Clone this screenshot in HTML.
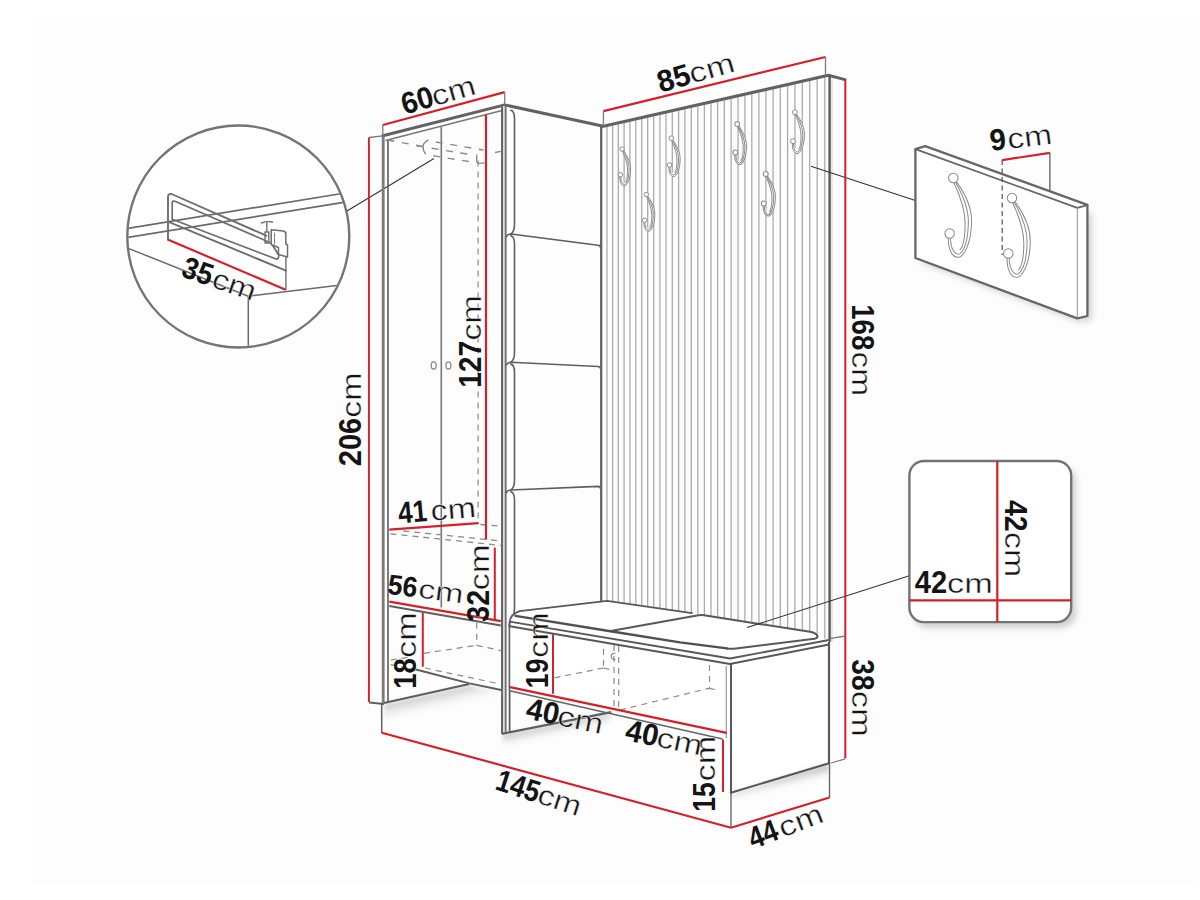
<!DOCTYPE html>
<html><head><meta charset="utf-8"><title>Hallway furniture dimensions</title>
<style>html,body{margin:0;padding:0;background:#fff;}svg{display:block;}</style></head>
<body><svg width="1200" height="900" viewBox="0 0 1200 900">
<rect x="0" y="0" width="1200" height="900" fill="#ffffff"/>
<rect x="32" y="15" width="1166" height="870" fill="#fdfdfd"/>
<defs><filter id="blur2" x="-20%" y="-20%" width="140%" height="140%"><feGaussianBlur stdDeviation="3"/></filter><filter id="blur1" x="-20%" y="-50%" width="140%" height="200%"><feGaussianBlur stdDeviation="2"/></filter><filter id="blur3" x="-20%" y="-80%" width="140%" height="260%"><feGaussianBlur stdDeviation="3.5"/></filter><linearGradient id="shd" x1="0" y1="0" x2="0" y2="1"><stop offset="0" stop-color="#a8a8a8"/><stop offset="1" stop-color="#ffffff" stop-opacity="0"/></linearGradient></defs>
<defs><clipPath id="cc"><circle cx="238.3" cy="236.5" r="110"/></clipPath></defs>
<circle cx="238.3" cy="236.5" r="111" fill="#fff"/>
<g clip-path="url(#cc)">
<line x1="120" y1="229.6" x2="345" y2="193" stroke="#6a6a6a" stroke-width="1.7" />
<line x1="120" y1="238.6" x2="345" y2="202.1" stroke="#6a6a6a" stroke-width="1.7" />
<line x1="120" y1="245" x2="248.3" y2="296.3" stroke="#6a6a6a" stroke-width="1.5" />
<line x1="248.3" y1="296.3" x2="345" y2="284.5" stroke="#6a6a6a" stroke-width="1.5" />
<line x1="248.3" y1="296.3" x2="248.3" y2="352" stroke="#6a6a6a" stroke-width="1.5" />
<path d="M168,240 L168,197 Q168,193.5 171.5,194 L266.4,235.7" stroke="#6e6e6e" stroke-width="1.9" fill="none" stroke-linejoin="round" stroke-linecap="round" />
<path d="M172.2,203 Q172.2,200.5 175,201.2 L263,239.5 L271.5,243.5 L278.6,255 Q279,259.5 276,259 L172.2,219.2 Z" stroke="#6e6e6e" stroke-width="1.7" fill="none" stroke-linejoin="round" stroke-linecap="round" />
<path d="M168,221.7 L285.9,270.6" stroke="#6e6e6e" stroke-width="1.9" fill="none" stroke-linejoin="round" stroke-linecap="round" />
<path d="M285.9,256 L285.9,289.5" stroke="#6e6e6e" stroke-width="1.4" fill="none" stroke-linejoin="round" stroke-linecap="round" />
<path d="M271.2,229.8 L271.2,244.5 L278.5,247.5 L278.5,254.5 L287.5,257 L287.5,245 L285.8,244 L285.8,232.5 L283.5,231 Z" stroke="#6e6e6e" stroke-width="1.5" fill="#fff" stroke-linejoin="round" stroke-linecap="round" />
<path d="M274.5,233 L274.5,244" stroke="#7c7c7c" stroke-width="1.0" fill="none" stroke-linejoin="round" stroke-linecap="round" />
<path d="M261.5,223 Q266.5,221 272.5,222 M266.8,222.3 L266.8,232 M265,232 L268.8,232 L268.8,243 L265,243 Z" stroke="#6e6e6e" stroke-width="1.4" fill="none" stroke-linejoin="round" stroke-linecap="round" />
</g>
<circle cx="238.3" cy="236.5" r="111" fill="none" stroke="#747474" stroke-width="2.4"/>
<line x1="347" y1="211" x2="434" y2="158.5" stroke="#333" stroke-width="1.1" />
<line x1="369.1" y1="137.5" x2="382.8" y2="135.8" stroke="#7c7c7c" stroke-width="1.3" />
<path d="M382.8,135.8 L504.7,104.9 L602.3,126" stroke="#626262" stroke-width="3.0" fill="none" stroke-linejoin="round" stroke-linecap="round" />
<line x1="385.5" y1="140.5" x2="502" y2="110.5" stroke="#777" stroke-width="1.4" />
<line x1="383.2" y1="135.8" x2="383.2" y2="703" stroke="#7a7a7a" stroke-width="2.8" />
<line x1="388" y1="140" x2="388" y2="702" stroke="#5c5c5c" stroke-width="1.6" />
<line x1="441.3" y1="127" x2="441.3" y2="607.5" stroke="#777" stroke-width="1.6" />
<ellipse cx="433.7" cy="365.4" rx="2.5" ry="3.6" fill="#fff" stroke="#888" stroke-width="1.3"/>
<ellipse cx="448.4" cy="365.4" rx="2.5" ry="3.6" fill="#fff" stroke="#888" stroke-width="1.3"/>
<rect x="502.6" y="106" width="2.4" height="627" fill="#dcdcdc"/>
<line x1="502" y1="105" x2="502" y2="734" stroke="#666" stroke-width="2.0" />
<line x1="505.7" y1="106" x2="505.7" y2="733" stroke="#707070" stroke-width="1.8" />
<line x1="509.6" y1="624" x2="509.6" y2="733" stroke="#555" stroke-width="1.7" />
<line x1="387.5" y1="140" x2="423" y2="146.5" stroke="#8a8a8a" stroke-width="1.4" stroke-dasharray="7,7.5" />
<path d="M428,140 Q422.5,143.5 423,147 Q423.3,151 425.5,153.8" stroke="#7a7a7a" stroke-width="1.3" fill="none" stroke-linejoin="round" stroke-linecap="round" />
<line x1="416.7" y1="145.8" x2="423" y2="146.6" stroke="#8a8a8a" stroke-width="1.3" />
<line x1="435.8" y1="142" x2="483.3" y2="150" stroke="#8a8a8a" stroke-width="1.4" stroke-dasharray="7,7.5" />
<line x1="431.7" y1="148.3" x2="470" y2="154.5" stroke="#8a8a8a" stroke-width="1.4" stroke-dasharray="7,7.5" />
<line x1="433.3" y1="155.8" x2="472" y2="162" stroke="#8a8a8a" stroke-width="1.4" stroke-dasharray="7,7.5" />
<path d="M476.7,155 L476.7,161 Q477,163.5 479.5,163.3 L484.2,162.8" stroke="#8a8a8a" stroke-width="1.3" fill="none" stroke-linejoin="round" stroke-linecap="round" />
<line x1="495" y1="152.5" x2="500.8" y2="151.3" stroke="#8a8a8a" stroke-width="1.3" />
<line x1="478.1" y1="160.5" x2="478.1" y2="524" stroke="#8a8a8a" stroke-width="1.2" stroke-dasharray="6,5" />
<line x1="390.5" y1="533.8" x2="501.4" y2="545.5" stroke="#8a8a8a" stroke-width="1.3" stroke-dasharray="6,5" />
<line x1="403.3" y1="531" x2="501.4" y2="541" stroke="#8a8a8a" stroke-width="1.3" stroke-dasharray="6,5" />
<line x1="480.4" y1="524.5" x2="501.4" y2="526.3" stroke="#8a8a8a" stroke-width="1.3" stroke-dasharray="6,5" />
<line x1="389.3" y1="606" x2="500.8" y2="625.5" stroke="#5e5e5e" stroke-width="1.8" />
<line x1="424" y1="653.3" x2="476.7" y2="645.3" stroke="#8a8a8a" stroke-width="1.2" stroke-dasharray="6,5" />
<line x1="476.7" y1="645.3" x2="501.3" y2="650.7" stroke="#8a8a8a" stroke-width="1.2" stroke-dasharray="6,5" />
<line x1="476.7" y1="622.7" x2="476.7" y2="645.3" stroke="#8a8a8a" stroke-width="1.2" stroke-dasharray="6,5" />
<line x1="390.7" y1="660" x2="410" y2="657" stroke="#8a8a8a" stroke-width="1.2" stroke-dasharray="6,5" />
<line x1="390.7" y1="664.7" x2="416" y2="670" stroke="#8a8a8a" stroke-width="1.2" stroke-dasharray="6,5" />
<line x1="416" y1="669.5" x2="469.3" y2="683.3" stroke="#5e5e5e" stroke-width="1.9" />
<line x1="425" y1="668" x2="500" y2="684" stroke="#8a8a8a" stroke-width="1.2" stroke-dasharray="6,5" />
<linearGradient id="sg1" gradientUnits="userSpaceOnUse" x1="426.5" y1="694.5" x2="431" y2="714"><stop offset="0" stop-color="#c4c4c4"/><stop offset="1" stop-color="#fff" stop-opacity="0"/></linearGradient>
<polygon points="384,704.5 469,685.5 501,691.5 501,716 384,726" fill="url(#sg1)" filter="url(#blur1)"/>
<line x1="369.1" y1="702.5" x2="384" y2="704" stroke="#5e5e5e" stroke-width="1.8" />
<line x1="384" y1="703" x2="469.3" y2="684" stroke="#5e5e5e" stroke-width="2.2" />
<line x1="469.3" y1="683.3" x2="501.3" y2="690" stroke="#5e5e5e" stroke-width="1.8" />
<line x1="381.7" y1="704" x2="381.7" y2="733" stroke="#5e5e5e" stroke-width="1.5" />
<linearGradient id="sg2" gradientUnits="userSpaceOnUse" x1="556" y1="724" x2="559" y2="738"><stop offset="0" stop-color="#c4c4c4"/><stop offset="1" stop-color="#fff" stop-opacity="0"/></linearGradient>
<polygon points="503,734.5 610,713 612,728 503,750" fill="url(#sg2)" filter="url(#blur1)"/>
<line x1="502" y1="733.8" x2="611.3" y2="712.2" stroke="#5e5e5e" stroke-width="2.2" />
<path d="M510.8,110.3 Q514.5,111.0 514.5,118.5 L514.5,224 Q514.5,232 510.8,234" stroke="#5e5e5e" stroke-width="1.6" fill="none" stroke-linejoin="round" stroke-linecap="round" />
<path d="M506.3,236.7 Q507.5,234 511,234 L598,245.2 Q600.5,245.5 600.5,247.5" stroke="#5e5e5e" stroke-width="1.6" fill="none" stroke-linejoin="round" stroke-linecap="round" />
<path d="M510.8,235.8 Q514.5,236.5 514.5,244 L514.5,352.3 Q514.5,360.3 510.8,362.3" stroke="#5e5e5e" stroke-width="1.6" fill="none" stroke-linejoin="round" stroke-linecap="round" />
<path d="M506.3,365.0 Q507.5,362.3 511,362.3 L598,366.5 Q600.5,366.8 600.5,368.8" stroke="#5e5e5e" stroke-width="1.6" fill="none" stroke-linejoin="round" stroke-linecap="round" />
<path d="M510.8,364.1 Q514.5,364.8 514.5,372.3 L514.5,480 Q514.5,488 510.8,490" stroke="#5e5e5e" stroke-width="1.6" fill="none" stroke-linejoin="round" stroke-linecap="round" />
<path d="M506.3,492.7 Q507.5,490 511,490 L598,486.4 Q600.5,486.7 600.5,488.7" stroke="#5e5e5e" stroke-width="1.6" fill="none" stroke-linejoin="round" stroke-linecap="round" />
<path d="M510.8,491.8 Q514.5,492.5 514.5,500 L514.5,608 Q514.5,616 510.8,618" stroke="#5e5e5e" stroke-width="1.6" fill="none" stroke-linejoin="round" stroke-linecap="round" />
<line x1="607.0" y1="127.0" x2="607.0" y2="650" stroke="#a8a8a8" stroke-width="1.25" />
<line x1="612.6" y1="125.7" x2="612.6" y2="650" stroke="#a8a8a8" stroke-width="1.25" />
<line x1="618.3" y1="124.4" x2="618.3" y2="650" stroke="#a8a8a8" stroke-width="1.25" />
<line x1="624.1" y1="123.1" x2="624.1" y2="650" stroke="#a8a8a8" stroke-width="1.25" />
<line x1="629.9" y1="121.8" x2="629.9" y2="650" stroke="#a8a8a8" stroke-width="1.25" />
<line x1="635.8" y1="120.5" x2="635.8" y2="650" stroke="#a8a8a8" stroke-width="1.25" />
<line x1="641.7" y1="119.1" x2="641.7" y2="650" stroke="#a8a8a8" stroke-width="1.25" />
<line x1="647.7" y1="117.8" x2="647.7" y2="650" stroke="#a8a8a8" stroke-width="1.25" />
<line x1="653.7" y1="116.4" x2="653.7" y2="650" stroke="#a8a8a8" stroke-width="1.25" />
<line x1="659.9" y1="115.0" x2="659.9" y2="650" stroke="#a8a8a8" stroke-width="1.25" />
<line x1="666.0" y1="113.6" x2="666.0" y2="650" stroke="#a8a8a8" stroke-width="1.25" />
<line x1="672.3" y1="112.2" x2="672.3" y2="650" stroke="#a8a8a8" stroke-width="1.25" />
<line x1="678.6" y1="110.8" x2="678.6" y2="650" stroke="#a8a8a8" stroke-width="1.25" />
<line x1="684.9" y1="109.3" x2="684.9" y2="650" stroke="#a8a8a8" stroke-width="1.25" />
<line x1="691.3" y1="107.9" x2="691.3" y2="650" stroke="#a8a8a8" stroke-width="1.25" />
<line x1="697.8" y1="106.4" x2="697.8" y2="650" stroke="#a8a8a8" stroke-width="1.25" />
<line x1="704.4" y1="104.9" x2="704.4" y2="650" stroke="#a8a8a8" stroke-width="1.25" />
<line x1="711.0" y1="103.4" x2="711.0" y2="650" stroke="#a8a8a8" stroke-width="1.25" />
<line x1="717.6" y1="101.9" x2="717.6" y2="650" stroke="#a8a8a8" stroke-width="1.25" />
<line x1="724.3" y1="100.4" x2="724.3" y2="650" stroke="#a8a8a8" stroke-width="1.25" />
<line x1="731.1" y1="98.8" x2="731.1" y2="650" stroke="#a8a8a8" stroke-width="1.25" />
<line x1="738.0" y1="97.3" x2="738.0" y2="650" stroke="#a8a8a8" stroke-width="1.25" />
<line x1="744.9" y1="95.7" x2="744.9" y2="650" stroke="#a8a8a8" stroke-width="1.25" />
<line x1="751.8" y1="94.2" x2="751.8" y2="650" stroke="#a8a8a8" stroke-width="1.25" />
<line x1="758.9" y1="92.6" x2="758.9" y2="650" stroke="#a8a8a8" stroke-width="1.25" />
<line x1="765.9" y1="91.0" x2="765.9" y2="650" stroke="#a8a8a8" stroke-width="1.25" />
<line x1="773.1" y1="89.3" x2="773.1" y2="650" stroke="#a8a8a8" stroke-width="1.25" />
<line x1="780.3" y1="87.7" x2="780.3" y2="650" stroke="#a8a8a8" stroke-width="1.25" />
<line x1="787.6" y1="86.1" x2="787.6" y2="650" stroke="#a8a8a8" stroke-width="1.25" />
<line x1="794.9" y1="84.4" x2="794.9" y2="650" stroke="#a8a8a8" stroke-width="1.25" />
<line x1="802.3" y1="82.7" x2="802.3" y2="650" stroke="#a8a8a8" stroke-width="1.25" />
<line x1="809.7" y1="81.0" x2="809.7" y2="650" stroke="#a8a8a8" stroke-width="1.25" />
<line x1="817.2" y1="79.3" x2="817.2" y2="650" stroke="#a8a8a8" stroke-width="1.25" />
<line x1="824.8" y1="77.6" x2="824.8" y2="650" stroke="#a8a8a8" stroke-width="1.25" />
<line x1="601.2" y1="127" x2="601.2" y2="610" stroke="#5e5e5e" stroke-width="2.2" />
<path d="M603.4,126.3 L828.4,75.3 L845,79.6" stroke="#626262" stroke-width="3.0" fill="none" stroke-linejoin="round" stroke-linecap="round" />
<line x1="829.6" y1="75.5" x2="829.6" y2="642" stroke="#585858" stroke-width="2.4" />
<line x1="832" y1="78" x2="832" y2="642" stroke="#d8d8d8" stroke-width="1.2" />
<g transform="translate(622.1,149) scale(1.0)" fill="none" stroke="#8a8a8a" stroke-width="1.00"><path d="M1.5,1.8 C6,8 8.8,14 8.5,21 C8.2,29 6,35 3,36.8 C0,37.5 -2.5,34 -2.3,27.5 L-0.8,27.8 C-0.5,32 1.5,34.5 3,33.5 C4.5,32 5.5,28 5.5,21 C5.5,15 3.5,9 0.3,2.2 Z" fill="#fff" stroke="none"/><path d="M1.5,1.8 C6,8 8.8,14 8.5,21 C8.2,29 6,35 3,36.8 C0,37.5 -2.5,34 -2.3,27.5"/><path d="M1,2 C4.8,8.5 7.2,14.5 7,21 C6.8,28.5 5.2,33.5 3,35.3 C1,36 -1.2,33.5 -1.3,28"/><path d="M0.3,2.2 C3.5,9 5.5,15 5.5,21 C5.5,28 4.5,32 3,33.5"/><circle cx="0" cy="0" r="2.2" fill="#fff"/><circle cx="-1.7" cy="25.8" r="2.2" fill="#fff"/></g>
<g transform="translate(671.3,138.2) scale(1.04)" fill="none" stroke="#8a8a8a" stroke-width="0.96"><path d="M1.5,1.8 C6,8 8.8,14 8.5,21 C8.2,29 6,35 3,36.8 C0,37.5 -2.5,34 -2.3,27.5 L-0.8,27.8 C-0.5,32 1.5,34.5 3,33.5 C4.5,32 5.5,28 5.5,21 C5.5,15 3.5,9 0.3,2.2 Z" fill="#fff" stroke="none"/><path d="M1.5,1.8 C6,8 8.8,14 8.5,21 C8.2,29 6,35 3,36.8 C0,37.5 -2.5,34 -2.3,27.5"/><path d="M1,2 C4.8,8.5 7.2,14.5 7,21 C6.8,28.5 5.2,33.5 3,35.3 C1,36 -1.2,33.5 -1.3,28"/><path d="M0.3,2.2 C3.5,9 5.5,15 5.5,21 C5.5,28 4.5,32 3,33.5"/><circle cx="0" cy="0" r="2.2" fill="#fff"/><circle cx="-1.7" cy="25.8" r="2.2" fill="#fff"/></g>
<g transform="translate(646.3,194.5) scale(1.0)" fill="none" stroke="#8a8a8a" stroke-width="1.00"><path d="M1.5,1.8 C6,8 8.8,14 8.5,21 C8.2,29 6,35 3,36.8 C0,37.5 -2.5,34 -2.3,27.5 L-0.8,27.8 C-0.5,32 1.5,34.5 3,33.5 C4.5,32 5.5,28 5.5,21 C5.5,15 3.5,9 0.3,2.2 Z" fill="#fff" stroke="none"/><path d="M1.5,1.8 C6,8 8.8,14 8.5,21 C8.2,29 6,35 3,36.8 C0,37.5 -2.5,34 -2.3,27.5"/><path d="M1,2 C4.8,8.5 7.2,14.5 7,21 C6.8,28.5 5.2,33.5 3,35.3 C1,36 -1.2,33.5 -1.3,28"/><path d="M0.3,2.2 C3.5,9 5.5,15 5.5,21 C5.5,28 4.5,32 3,33.5"/><circle cx="0" cy="0" r="2.2" fill="#fff"/><circle cx="-1.7" cy="25.8" r="2.2" fill="#fff"/></g>
<g transform="translate(737.2,124.1) scale(1.1)" fill="none" stroke="#8a8a8a" stroke-width="0.91"><path d="M1.5,1.8 C6,8 8.8,14 8.5,21 C8.2,29 6,35 3,36.8 C0,37.5 -2.5,34 -2.3,27.5 L-0.8,27.8 C-0.5,32 1.5,34.5 3,33.5 C4.5,32 5.5,28 5.5,21 C5.5,15 3.5,9 0.3,2.2 Z" fill="#fff" stroke="none"/><path d="M1.5,1.8 C6,8 8.8,14 8.5,21 C8.2,29 6,35 3,36.8 C0,37.5 -2.5,34 -2.3,27.5"/><path d="M1,2 C4.8,8.5 7.2,14.5 7,21 C6.8,28.5 5.2,33.5 3,35.3 C1,36 -1.2,33.5 -1.3,28"/><path d="M0.3,2.2 C3.5,9 5.5,15 5.5,21 C5.5,28 4.5,32 3,33.5"/><circle cx="0" cy="0" r="2.2" fill="#fff"/><circle cx="-1.7" cy="25.8" r="2.2" fill="#fff"/></g>
<g transform="translate(794.9,112.3) scale(1.12)" fill="none" stroke="#8a8a8a" stroke-width="0.89"><path d="M1.5,1.8 C6,8 8.8,14 8.5,21 C8.2,29 6,35 3,36.8 C0,37.5 -2.5,34 -2.3,27.5 L-0.8,27.8 C-0.5,32 1.5,34.5 3,33.5 C4.5,32 5.5,28 5.5,21 C5.5,15 3.5,9 0.3,2.2 Z" fill="#fff" stroke="none"/><path d="M1.5,1.8 C6,8 8.8,14 8.5,21 C8.2,29 6,35 3,36.8 C0,37.5 -2.5,34 -2.3,27.5"/><path d="M1,2 C4.8,8.5 7.2,14.5 7,21 C6.8,28.5 5.2,33.5 3,35.3 C1,36 -1.2,33.5 -1.3,28"/><path d="M0.3,2.2 C3.5,9 5.5,15 5.5,21 C5.5,28 4.5,32 3,33.5"/><circle cx="0" cy="0" r="2.2" fill="#fff"/><circle cx="-1.7" cy="25.8" r="2.2" fill="#fff"/></g>
<g transform="translate(765.7,174) scale(1.14)" fill="none" stroke="#8a8a8a" stroke-width="0.88"><path d="M1.5,1.8 C6,8 8.8,14 8.5,21 C8.2,29 6,35 3,36.8 C0,37.5 -2.5,34 -2.3,27.5 L-0.8,27.8 C-0.5,32 1.5,34.5 3,33.5 C4.5,32 5.5,28 5.5,21 C5.5,15 3.5,9 0.3,2.2 Z" fill="#fff" stroke="none"/><path d="M1.5,1.8 C6,8 8.8,14 8.5,21 C8.2,29 6,35 3,36.8 C0,37.5 -2.5,34 -2.3,27.5"/><path d="M1,2 C4.8,8.5 7.2,14.5 7,21 C6.8,28.5 5.2,33.5 3,35.3 C1,36 -1.2,33.5 -1.3,28"/><path d="M0.3,2.2 C3.5,9 5.5,15 5.5,21 C5.5,28 4.5,32 3,33.5"/><circle cx="0" cy="0" r="2.2" fill="#fff"/><circle cx="-1.7" cy="25.8" r="2.2" fill="#fff"/></g>
<line x1="811" y1="166.3" x2="915.4" y2="200.5" stroke="#333" stroke-width="1.1" />
<polygon points="509.3,690 509.3,622 512,615 519.6,611.1 607,600.8 692,613.3 700,614.8 810,631.8 817,636 829,640 829,764 731,793 731,733" fill="#fff"/>
<linearGradient id="sg3" gradientUnits="userSpaceOnUse" x1="780" y1="778.5" x2="783" y2="791"><stop offset="0" stop-color="#c4c4c4"/><stop offset="1" stop-color="#fff" stop-opacity="0"/></linearGradient>
<polygon points="731,793.5 829,763.5 829,778 731,808" fill="url(#sg3)" filter="url(#blur1)"/>
<line x1="731" y1="663" x2="731" y2="793" stroke="#585858" stroke-width="2.0" />
<line x1="726.3" y1="666" x2="726.3" y2="738" stroke="#9a9a9a" stroke-width="1.2" />
<line x1="829" y1="642" x2="829" y2="764" stroke="#585858" stroke-width="2.2" />
<line x1="730" y1="793" x2="830" y2="763" stroke="#585858" stroke-width="2.0" />
<line x1="509.5" y1="622" x2="509.5" y2="690" stroke="#666" stroke-width="1.5" />
<line x1="554.5" y1="677.8" x2="603.5" y2="668" stroke="#8a8a8a" stroke-width="1.2" stroke-dasharray="6,5" />
<line x1="603.5" y1="648.7" x2="603.5" y2="668" stroke="#8a8a8a" stroke-width="1.2" stroke-dasharray="6,5" />
<line x1="603.5" y1="668" x2="612.8" y2="670.3" stroke="#8a8a8a" stroke-width="1.2" stroke-dasharray="6,5" />
<line x1="614" y1="645" x2="614" y2="710" stroke="#8a8a8a" stroke-width="1.2" stroke-dasharray="6,5" />
<line x1="618.7" y1="646" x2="618.7" y2="711" stroke="#8a8a8a" stroke-width="1.2" stroke-dasharray="6,5" />
<line x1="620" y1="710" x2="709" y2="688.3" stroke="#8a8a8a" stroke-width="1.2" stroke-dasharray="6,5" />
<line x1="709.5" y1="665" x2="709.5" y2="688.3" stroke="#8a8a8a" stroke-width="1.2" stroke-dasharray="6,5" />
<line x1="709" y1="688.3" x2="719.7" y2="690.5" stroke="#8a8a8a" stroke-width="1.2" stroke-dasharray="6,5" />
<path d="M615,653 Q611.2,653.5 611.2,656.5 Q611.5,659.5 615,659.5" stroke="#777" stroke-width="1.1" fill="none" stroke-linejoin="round" stroke-linecap="round" />
<path d="M509.5,626 L509.7,622 Q510.5,614 519.6,611.1 L607,600.8 L692,613.2" stroke="#585858" stroke-width="1.7" fill="none" stroke-linejoin="round" stroke-linecap="round" />
<path d="M612,630.8 L697,615.5 Q700.5,614.8 704,615.3 L810,631.8 Q816.5,633 817.5,636.3 Q817.5,638.3 814.5,638.8 L736,648.4 Q731,649.2 727,648.6" stroke="#585858" stroke-width="2.0" fill="none" stroke-linejoin="round" stroke-linecap="round" />
<path d="M515.5,615.8 L612,631.5 L680,642.3 L727,648.3" stroke="#505050" stroke-width="2.3" fill="none" stroke-linejoin="round" stroke-linecap="round" />
<path d="M509.7,621.6 L730,658.5 L829,640" stroke="#585858" stroke-width="1.9" fill="none" stroke-linejoin="round" stroke-linecap="round" />
<path d="M509.7,626.3 L730,664 L829,644.5" stroke="#585858" stroke-width="1.9" fill="none" stroke-linejoin="round" stroke-linecap="round" />
<line x1="747" y1="627.5" x2="909.4" y2="575.7" stroke="#333" stroke-width="1.1" />
<line x1="168.3" y1="239.8" x2="285.7" y2="289.7" stroke="#d42029" stroke-width="2.2" />
<line x1="382.8" y1="125" x2="504.7" y2="92.1" stroke="#d42029" stroke-width="2.2" />
<line x1="382.8" y1="125" x2="382.8" y2="136" stroke="#7c7c7c" stroke-width="1.3" />
<line x1="504.7" y1="92.1" x2="504.7" y2="104.5" stroke="#7c7c7c" stroke-width="1.3" />
<line x1="603.4" y1="111.1" x2="825.5" y2="57" stroke="#d42029" stroke-width="2.2" />
<line x1="603.4" y1="111.1" x2="603.4" y2="126" stroke="#7c7c7c" stroke-width="1.3" />
<line x1="825.5" y1="57" x2="825.5" y2="75.5" stroke="#7c7c7c" stroke-width="1.3" />
<line x1="368.9" y1="137.5" x2="368.9" y2="702" stroke="#d42029" stroke-width="1.9" />
<line x1="486" y1="114.5" x2="486" y2="539.5" stroke="#d42029" stroke-width="2.2" />
<line x1="389.3" y1="529.6" x2="478.7" y2="523.1" stroke="#d42029" stroke-width="2.2" />
<line x1="494.8" y1="547.6" x2="494.8" y2="620" stroke="#d42029" stroke-width="2.0" />
<line x1="389.3" y1="601.7" x2="500.8" y2="621.2" stroke="#d42029" stroke-width="2.2" />
<line x1="422.8" y1="613" x2="422.8" y2="666.7" stroke="#d42029" stroke-width="2.0" />
<line x1="553" y1="634.2" x2="553" y2="693.8" stroke="#d42029" stroke-width="2.0" />
<line x1="510" y1="687.1" x2="726.7" y2="732.9" stroke="#d42029" stroke-width="2.2" />
<line x1="509.7" y1="690.8" x2="722.5" y2="739" stroke="#666" stroke-width="1.6" />
<line x1="723" y1="739.5" x2="723" y2="792" stroke="#d42029" stroke-width="2.0" />
<line x1="381.7" y1="732.7" x2="731" y2="827.7" stroke="#d42029" stroke-width="2.2" />
<line x1="731" y1="793.3" x2="731" y2="827.7" stroke="#5e5e5e" stroke-width="1.3" />
<line x1="731" y1="827.7" x2="829.5" y2="797.5" stroke="#d42029" stroke-width="2.2" />
<line x1="829.5" y1="764" x2="829.5" y2="797.5" stroke="#5e5e5e" stroke-width="1.3" />
<line x1="845.3" y1="79.6" x2="845.3" y2="758.3" stroke="#d42029" stroke-width="2.0" />
<line x1="831" y1="638.3" x2="845.3" y2="636" stroke="#7c7c7c" stroke-width="1.3" />
<line x1="831" y1="763" x2="845.3" y2="758.8" stroke="#7c7c7c" stroke-width="1.3" />
<polygon points="919,262 1080,322 1092,320 1092,214 1060,202" fill="#cfcfcf" filter="url(#blur2)" opacity="0.9"/>
<polygon points="915.4,149 925.2,146.2 1087.4,204.8 1087.4,316 1077.3,318.3 915.4,258" fill="#fff" stroke="none"/>
<path d="M915.4,258 L915.4,149.1 L925.2,146.2 L1087.4,204.8 L1087.4,316 L1077.3,318.3 Z" stroke="#666" stroke-width="2.3" fill="none" stroke-linejoin="round" stroke-linecap="round" />
<path d="M915.4,149.1 L1077.3,207.9 L1087.4,205.2" stroke="#666" stroke-width="1.8" fill="none" stroke-linejoin="round" stroke-linecap="round" />
<line x1="1077.3" y1="208" x2="1077.3" y2="318" stroke="#999" stroke-width="1.1" />
<line x1="1002.2" y1="160.1" x2="1002.2" y2="255" stroke="#5e5e5e" stroke-width="1.3" stroke-dasharray="5,3.5" />
<g transform="translate(953.3,178) scale(2.15)" fill="none" stroke="#8a8a8a" stroke-width="0.47"><path d="M1.5,1.8 C6,8 8.8,14 8.5,21 C8.2,29 6,35 3,36.8 C0,37.5 -2.5,34 -2.3,27.5 L-0.8,27.8 C-0.5,32 1.5,34.5 3,33.5 C4.5,32 5.5,28 5.5,21 C5.5,15 3.5,9 0.3,2.2 Z" fill="#fff" stroke="none"/><path d="M1.5,1.8 C6,8 8.8,14 8.5,21 C8.2,29 6,35 3,36.8 C0,37.5 -2.5,34 -2.3,27.5"/><path d="M1,2 C4.8,8.5 7.2,14.5 7,21 C6.8,28.5 5.2,33.5 3,35.3 C1,36 -1.2,33.5 -1.3,28"/><path d="M0.3,2.2 C3.5,9 5.5,15 5.5,21 C5.5,28 4.5,32 3,33.5"/><circle cx="0" cy="0" r="2.2" fill="#fff"/><circle cx="-1.7" cy="25.8" r="2.2" fill="#fff"/></g>
<g transform="translate(1012,198) scale(2.15)" fill="none" stroke="#8a8a8a" stroke-width="0.47"><path d="M1.5,1.8 C6,8 8.8,14 8.5,21 C8.2,29 6,35 3,36.8 C0,37.5 -2.5,34 -2.3,27.5 L-0.8,27.8 C-0.5,32 1.5,34.5 3,33.5 C4.5,32 5.5,28 5.5,21 C5.5,15 3.5,9 0.3,2.2 Z" fill="#fff" stroke="none"/><path d="M1.5,1.8 C6,8 8.8,14 8.5,21 C8.2,29 6,35 3,36.8 C0,37.5 -2.5,34 -2.3,27.5"/><path d="M1,2 C4.8,8.5 7.2,14.5 7,21 C6.8,28.5 5.2,33.5 3,35.3 C1,36 -1.2,33.5 -1.3,28"/><path d="M0.3,2.2 C3.5,9 5.5,15 5.5,21 C5.5,28 4.5,32 3,33.5"/><circle cx="0" cy="0" r="2.2" fill="#fff"/><circle cx="-1.7" cy="25.8" r="2.2" fill="#fff"/></g>
<line x1="1002.2" y1="160.1" x2="1049.9" y2="152.8" stroke="#d42029" stroke-width="2.2" />
<line x1="1049.9" y1="152.8" x2="1049.9" y2="190.7" stroke="#5e5e5e" stroke-width="1.3" />
<rect x="913" y="466" width="163" height="162" rx="15" fill="#c4c4c4" filter="url(#blur2)" opacity="0.8"/>
<rect x="909.4" y="461" width="161.8" height="161.1" rx="14.5" fill="#fff" stroke="#737373" stroke-width="2.4"/>
<line x1="997.3" y1="461" x2="997.3" y2="622" stroke="#d42029" stroke-width="2.2" />
<line x1="909.4" y1="600.4" x2="1071.2" y2="600.4" stroke="#d42029" stroke-width="2.2" />
<g font-family="&quot;Liberation Sans&quot;, sans-serif" fill="#141414">
<g transform="translate(405.5,114.5) rotate(-16)"><text x="-1.07" y="0" font-weight="bold" font-size="30.5" textLength="32.47" lengthAdjust="spacingAndGlyphs">60</text><text x="30.07" y="0" font-size="28.2" textLength="44.74" lengthAdjust="spacingAndGlyphs" stroke="#fff" stroke-width="0.4">cm</text></g>
<g transform="translate(661.3,92.6) rotate(-16)"><text x="-0.95" y="0" font-weight="bold" font-size="30.5" textLength="33.28" lengthAdjust="spacingAndGlyphs">85</text><text x="32.03" y="0" font-size="28.2" textLength="46.04" lengthAdjust="spacingAndGlyphs" stroke="#fff" stroke-width="0.4">cm</text></g>
<g transform="translate(992,151) rotate(-7)"><text x="-1.01" y="0" font-weight="bold" font-size="30.5" textLength="16.19" lengthAdjust="spacingAndGlyphs">9</text><text x="16.68" y="0" font-size="28.2" textLength="44.63" lengthAdjust="spacingAndGlyphs" stroke="#fff" stroke-width="0.4">cm</text></g>
<g transform="translate(180.6,276.2) rotate(19.1)"><text x="-0.63" y="0" font-weight="bold" font-size="30.5" textLength="30.70" lengthAdjust="spacingAndGlyphs">35</text><text x="31.38" y="0" font-size="28.2" textLength="44.63" lengthAdjust="spacingAndGlyphs" stroke="#fff" stroke-width="0.4">cm</text></g>
<g transform="translate(480.6,386.1) rotate(-90)"><text x="-1.77" y="0" font-weight="bold" font-size="30.5" textLength="46.91" lengthAdjust="spacingAndGlyphs">127</text><text x="45.24" y="0" font-size="28.2" textLength="45.94" lengthAdjust="spacingAndGlyphs" stroke="#fff" stroke-width="0.4">cm</text></g>
<g transform="translate(361.0,465.2) rotate(-90)"><text x="-1.01" y="0" font-weight="bold" font-size="30.5" textLength="48.46" lengthAdjust="spacingAndGlyphs">206</text><text x="47.46" y="0" font-size="28.2" textLength="45.17" lengthAdjust="spacingAndGlyphs" stroke="#fff" stroke-width="0.4">cm</text></g>
<g transform="translate(852.3,306) rotate(90)"><text x="-1.74" y="0" font-weight="bold" font-size="30.5" textLength="45.98" lengthAdjust="spacingAndGlyphs">168</text><text x="45.58" y="0" font-size="28.2" textLength="44.63" lengthAdjust="spacingAndGlyphs" stroke="#fff" stroke-width="0.4">cm</text></g>
<g transform="translate(399.5,523.4) rotate(-4.8)"><text x="-0.39" y="0" font-weight="bold" font-size="30.5" textLength="28.71" lengthAdjust="spacingAndGlyphs">41</text><text x="31.95" y="0" font-size="28.2" textLength="45.61" lengthAdjust="spacingAndGlyphs" stroke="#fff" stroke-width="0.4">cm</text></g>
<g transform="translate(387.5,593.75) rotate(7.2)"><text x="-0.82" y="0" font-weight="bold" font-size="28.3" textLength="29.69" lengthAdjust="spacingAndGlyphs">56</text><text x="30.26" y="0" font-size="26.5" textLength="45.28" lengthAdjust="spacingAndGlyphs" stroke="#fff" stroke-width="0.4">cm</text></g>
<g transform="translate(489,621) rotate(-90)"><text x="-0.66" y="0" font-weight="bold" font-size="30.5" textLength="31.80" lengthAdjust="spacingAndGlyphs">32</text><text x="30.53" y="0" font-size="28.2" textLength="46.26" lengthAdjust="spacingAndGlyphs" stroke="#fff" stroke-width="0.4">cm</text></g>
<g transform="translate(415.5,687) rotate(-90)"><text x="-1.73" y="0" font-weight="bold" font-size="30.5" textLength="30.58" lengthAdjust="spacingAndGlyphs">18</text><text x="29.04" y="0" font-size="28.2" textLength="45.72" lengthAdjust="spacingAndGlyphs" stroke="#fff" stroke-width="0.4">cm</text></g>
<g transform="translate(547.5,686.5) rotate(-90)"><text x="-1.68" y="0" font-weight="bold" font-size="30.5" textLength="29.67" lengthAdjust="spacingAndGlyphs">19</text><text x="28.54" y="0" font-size="28.2" textLength="45.72" lengthAdjust="spacingAndGlyphs" stroke="#fff" stroke-width="0.4">cm</text></g>
<g transform="translate(525.2,718.4) rotate(11.5)"><text x="-0.45" y="0" font-weight="bold" font-size="30.5" textLength="33.07" lengthAdjust="spacingAndGlyphs">40</text><text x="31.53" y="0" font-size="28.2" textLength="46.15" lengthAdjust="spacingAndGlyphs" stroke="#fff" stroke-width="0.4">cm</text></g>
<g transform="translate(624.4,740) rotate(11.5)"><text x="-0.45" y="0" font-weight="bold" font-size="30.5" textLength="33.07" lengthAdjust="spacingAndGlyphs">40</text><text x="31.54" y="0" font-size="28.2" textLength="45.94" lengthAdjust="spacingAndGlyphs" stroke="#fff" stroke-width="0.4">cm</text></g>
<g transform="translate(714.5,810) rotate(-90)"><text x="-1.66" y="0" font-weight="bold" font-size="30.5" textLength="29.40" lengthAdjust="spacingAndGlyphs">15</text><text x="28.54" y="0" font-size="28.2" textLength="45.72" lengthAdjust="spacingAndGlyphs" stroke="#fff" stroke-width="0.4">cm</text></g>
<g transform="translate(495.5,789.5) rotate(18)"><text x="-1.68" y="0" font-weight="bold" font-size="30.5" textLength="44.42" lengthAdjust="spacingAndGlyphs">145</text><text x="42.29" y="0" font-size="28.2" textLength="44.30" lengthAdjust="spacingAndGlyphs" stroke="#fff" stroke-width="0.4">cm</text></g>
<g transform="translate(753.3,849) rotate(-21)"><text x="-0.40" y="0" font-weight="bold" font-size="30.5" textLength="29.54" lengthAdjust="spacingAndGlyphs">44</text><text x="31.55" y="0" font-size="28.2" textLength="45.61" lengthAdjust="spacingAndGlyphs" stroke="#fff" stroke-width="0.4">cm</text></g>
<g transform="translate(852.2,660) rotate(90)"><text x="-0.64" y="0" font-weight="bold" font-size="30.5" textLength="31.10" lengthAdjust="spacingAndGlyphs">38</text><text x="30.73" y="0" font-size="28.2" textLength="46.04" lengthAdjust="spacingAndGlyphs" stroke="#fff" stroke-width="0.4">cm</text></g>
<g transform="translate(1005,500.5) rotate(90)"><text x="-0.43" y="0" font-weight="bold" font-size="30.5" textLength="31.57" lengthAdjust="spacingAndGlyphs">42</text><text x="31.56" y="0" font-size="28.2" textLength="45.17" lengthAdjust="spacingAndGlyphs" stroke="#fff" stroke-width="0.4">cm</text></g>
<g transform="translate(915.25,593.1) rotate(0)"><text x="-0.44" y="0" font-weight="bold" font-size="30.5" textLength="32.35" lengthAdjust="spacingAndGlyphs">42</text><text x="31.89" y="0" font-size="28.2" textLength="45.72" lengthAdjust="spacingAndGlyphs" stroke="#fff" stroke-width="0.4">cm</text></g>
</g>
</svg></body></html>
